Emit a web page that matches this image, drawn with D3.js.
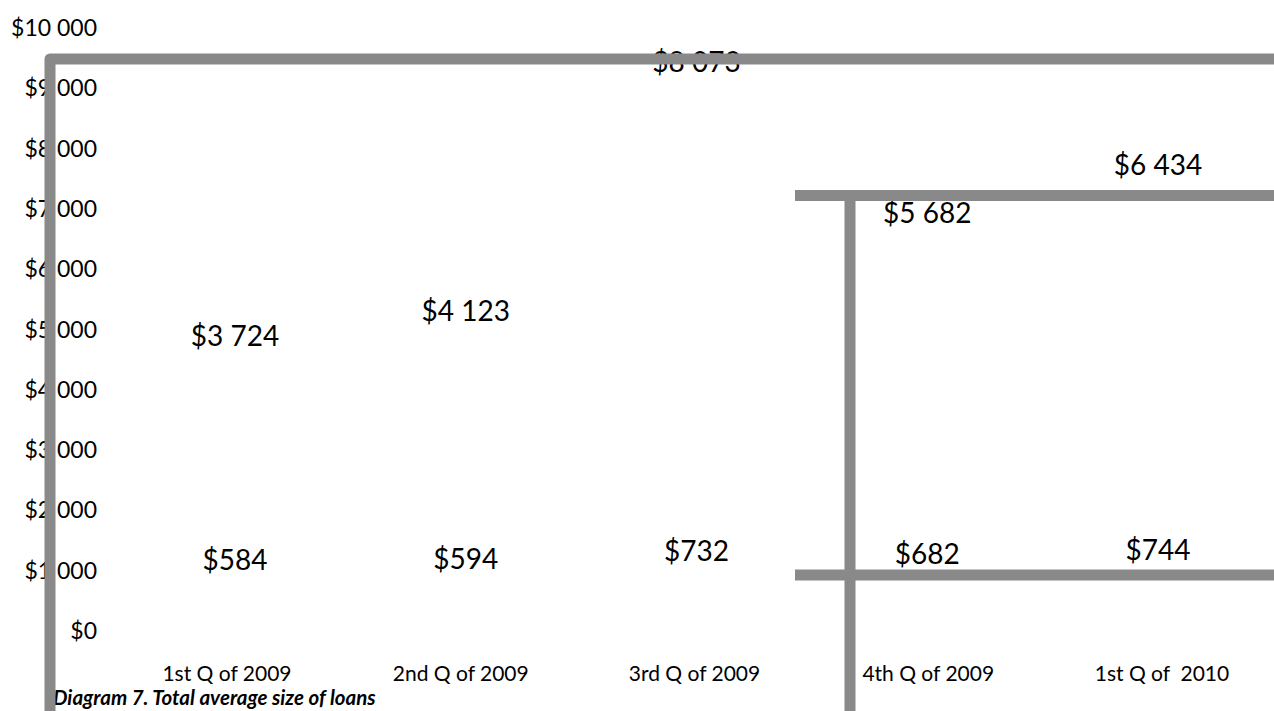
<!DOCTYPE html>
<html>
<head>
<meta charset="utf-8">
<script src="https://cdn.jsdelivr.net/npm/d3@7/dist/d3.min.js"></script>
<style>
  body { margin: 0; background: #fff; }
  text { font-family: Lato, "Open Sans", sans-serif; fill: #000; white-space: pre; }
</style>
</head>
<body>
<svg width="1274" height="711"></svg>
<script>
var categories = ["1st Q of 2009", "2nd Q of 2009", "3rd Q of 2009", "4th Q of 2009", "1st Q of  2010"];
var totalLoans = [3724, 4123, 8073, 5682, 6434];
var smallLoans = [584, 594, 732, 682, 744];
var yTicks = [0, 1000, 2000, 3000, 4000, 5000, 6000, 7000, 8000, 9000, 10000];

var svg = d3.select("svg"),
    width = +svg.attr("width"),
    height = +svg.attr("height");

var locale = d3.formatLocale({decimal: ".", thousands: " ", grouping: [3], currency: ["$", ""]}),
    money = locale.format("$,d");

var x = d3.scalePoint().domain(categories).range([235, 1158]);
var xCat = d3.scalePoint().domain(categories).range([227, 1162]);
var y = d3.scaleLinear().domain([0, 10000]).range([631, 28]);
// the value labels sit on their own (slightly steeper) scale
var yLab = d3.scaleLinear().domain([0, 10000]).range([597, -33]);

// y tick labels
svg.append("g").selectAll("text")
    .data(yTicks)
  .enter().append("text")
    .attr("x", 97)
    .attr("y", function(d) { return y(d); })
    .attr("dy", "0.35em")
    .attr("text-anchor", "end")
    .style("font-size", "23px")
    .text(function(d) { return money(d); });

// category labels
svg.append("g").selectAll("text")
    .data(categories)
  .enter().append("text")
    .attr("x", function(d) { return xCat(d); })
    .attr("y", 674)
    .attr("dy", "0.35em")
    .attr("text-anchor", "middle")
    .style("font-size", "21px")
    .text(function(d) { return d; });

// value labels, two series
var series = [
  {values: totalLoans, shift: -26},
  {values: smallLoans, shift: 0}
];
series.forEach(function(s) {
  svg.append("g").selectAll("text")
      .data(s.values)
    .enter().append("text")
      .attr("x", function(d, i) { return x(categories[i]); })
      .attr("y", function(d) { return yLab(d) + s.shift; })
      .attr("dy", "0.35em")
      .attr("text-anchor", "middle")
      .style("font-size", "28px")
      .text(function(d) { return money(d); });
});

svg.append("text")
    .attr("x", 53)
    .attr("y", 698)
    .attr("dy", "0.35em")
    .style("font-size", "20.5px")
    .style("font-weight", "bold")
    .style("font-style", "italic")
    .text("Diagram 7. Total average size of loans");

// grey frame strokes drawn over the text
var grey = "#898989";
svg.append("path")
    .attr("d", "M50," + height + "V59H" + (width + 10))
    .attr("fill", "none")
    .attr("stroke", grey)
    .attr("stroke-width", 11)
    .attr("stroke-linejoin", "round");

svg.append("path")
    .attr("d", "M795,195.5H" + (width + 10) + "M850,190V" + height + "M795,575H" + (width + 10))
    .attr("fill", "none")
    .attr("stroke", grey)
    .attr("stroke-width", 11);
</script>
</body>
</html>
